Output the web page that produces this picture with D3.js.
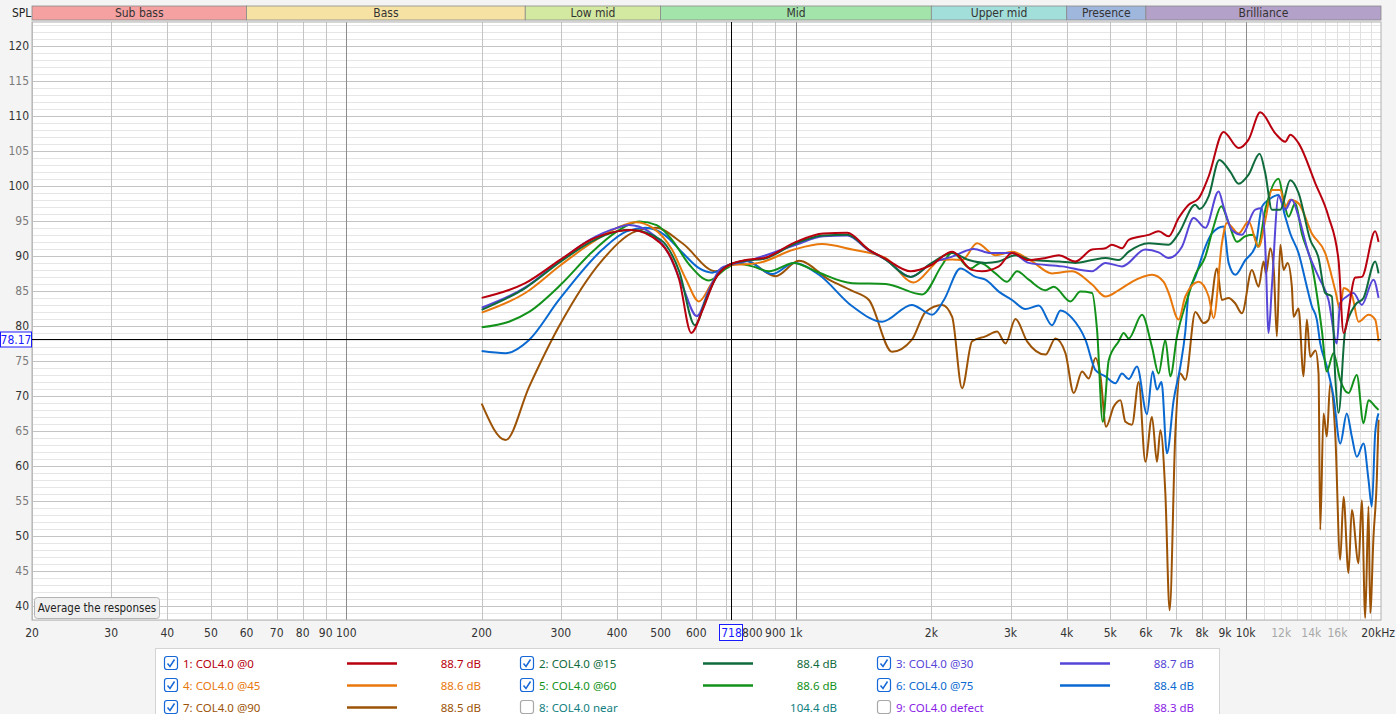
<!DOCTYPE html>
<html>
<head>
<meta charset="utf-8">
<script src="https://cdn.jsdelivr.net/npm/d3@7"></script>
<style>
  body { margin: 0; background: #f4f4f4; overflow: hidden; }
  text { font-family: "DejaVu Sans Condensed", "DejaVu Sans", sans-serif; }
  .legend text { font-family: "Noto Sans", "Open Sans", sans-serif; }
</style>
</head>
<body>
<svg id="chart" width="1396" height="714"></svg>
<script>
// frequency bands along the top
const bandNames = ["Sub bass", "Bass", "Low mid", "Mid", "Upper mid", "Presence", "Brilliance"];
const bandEdges = [20, 60, 250, 500, 2000, 4000, 6000, 20000];
const bandColors = ["#f5a1a1", "#f6e3a3", "#d3e9a1", "#a3e4aa", "#a3dfda", "#9fb6dd", "#b3a1c9"];

// axis ticks
const yTicks = d3.range(40, 121, 5);
const xTicks = [20, 30, 40, 50, 60, 70, 80, 90, 100, 200, 300, 400, 500, 600, 800, 900,
  1000, 2000, 3000, 4000, 5000, 6000, 7000, 8000, 9000, 10000, 12000, 14000, 16000, 20000];

// traces (legend order)
const traceNames = ["1: COL4.0 @0", "2: COL4.0 @15", "3: COL4.0 @30", "4: COL4.0 @45", "5: COL4.0 @60",
  "6: COL4.0 @75", "7: COL4.0 @90", "8: COL4.0 near", "9: COL4.0 defect"];
const traceLevels = [88.7, 88.4, 88.7, 88.6, 88.6, 88.4, 88.5, 104.4, 88.3];
const traceColors = ["#b8000e", "#0f6b3c", "#5646d8", "#e8780c", "#12921a", "#0a69d0", "#9c5306", "#128080", "#8a1ce6"];
const traceChecked = [true, true, true, true, true, true, true, false, false];

// cursor readout
const cursorHz = 718;
const cursorDb = 78.17;

// responses as [Hz, dB]
const resp0 = [[200,84.0],[250,86.1],[300,89.5],[350,92.3],[400,93.5],[430,93.7],[500,91.8],[550,86.6],[585,79.0],[620,82.3],[660,86.6],[710,88.7],
  [773,89.4],[850,89.7],[1000,92.0],[1150,93.2],[1300,93.3],[1450,90.9],[1580,89.6],[1800,87.8],[2000,88.7],[2225,90.6],[2460,88.0],[2590,87.8],
  [2825,88.5],[3024,90.4],[3290,89.4],[3590,89.7],[3840,90.1],[4180,89.2],[4555,90.9],[4880,91.1],[5040,91.6],[5310,91.1],[5495,92.3],[6086,93.0],
  [6406,93.5],[6742,92.8],[7096,95.4],[7470,97.3],[7860,98.2],[8270,101.3],[8930,107.7],[9650,105.4],[10150,106.6],[10780,110.5],[11640,107.5],
  [12250,106.3],[12570,107.3],[13110,106.1],[14280,100.4],[15290,95.6],[16090,89.4],[16510,79.0],[17530,86.9],[18130,87.0],[19410,93.5],[19750,92.0]];

const resp15 = [[200,82.3],[250,85.4],[300,89.2],[350,92.0],[400,93.5],[430,93.7],[500,92.3],[550,87.8],[596,80.1],[630,83.7],[670,87.3],[710,88.7],
  [773,89.3],[850,89.6],[1000,91.8],[1150,92.9],[1300,93.0],[1450,90.9],[1580,89.5],[1800,87.0],[1975,88.7],[2225,90.4],[2423,89.4],[2640,89.0],
  [2825,89.2],[3077,90.1],[3350,89.4],[3840,89.2],[4180,89.0],[4555,89.4],[4880,89.7],[5222,89.4],[5495,90.6],[6086,91.8],[6742,91.6],[7096,93.2],
  [7730,97.3],[7900,96.7],[8274,98.5],[8739,103.7],[9245,102.0],[9646,100.3],[10153,101.6],[10741,104.6],[11059,101.8],[11438,96.6],[11940,96.6],
  [12567,100.8],[13110,99.0],[13920,92.3],[14525,89.7],[15030,84.7],[15550,84.2],[15820,72.8],[16090,67.6],[16650,79.4],[17530,83.0],[18290,84.0],
  [19414,89.2],[19750,87.5]];

const resp30 = [[200,82.6],[250,85.5],[300,89.4],[350,92.4],[400,94.0],[425,94.4],[470,93.5],[520,90.4],[560,85.6],[602,81.4],[640,85.1],[680,88.2],
  [710,88.7],[773,89.2],[1000,91.6],[1150,92.8],[1300,92.9],[1450,90.8],[1580,89.5],[1800,87.0],[2009,89.0],[2225,89.9],[2486,91.0],[2707,90.4],
  [3024,90.4],[3293,89.0],[3906,88.5],[4555,87.8],[4878,89.0],[5309,88.5],[5984,90.9],[6406,90.5],[6742,89.7],[7217,91.3],[7662,95.4],[8135,94.0],
  [8708,99.2],[8933,97.0],[9321,93.7],[9811,93.0],[10507,96.6],[10868,96.8],[11059,91.3],[11247,79.0],[11438,85.6],[11837,98.5],[12249,96.6],
  [12670,98.0],[13112,95.6],[13800,90.4],[14525,87.0],[15287,83.7],[15950,77.5],[16230,83.3],[16788,84.2],[17375,84.7],[18128,83.0],[19246,86.6],[19750,84.0]];

const resp45 = [[200,81.9],[250,84.7],[300,88.7],[350,91.8],[400,94.0],[440,94.8],[480,94.0],[530,90.9],[570,86.6],[608,83.5],[650,86.1],[690,88.2],
  [720,88.7],[773,88.8],[827,89.0],[990,90.9],[1142,91.7],[1334,90.9],[1580,89.7],[1828,86.2],[2009,88.5],[2079,89.4],[2225,89.5],[2341,89.4],
  [2528,91.8],[2778,90.1],[3024,90.6],[3350,89.2],[3711,87.5],[4112,87.8],[4555,85.9],[4878,84.2],[5222,85.1],[5588,86.3],[6190,87.3],[6572,86.3],
  [6742,84.7],[7096,80.9],[7343,84.2],[7861,86.3],[8274,84.2],[8488,81.1],[8856,91.8],[9085,94.7],[9646,93.2],[10153,94.9],[10686,91.3],[11059,95.1],
  [11438,99.4],[11940,99.4],[12249,97.0],[12567,98.0],[13112,97.5],[14035,93.2],[15031,90.4],[15820,85.1],[16230,82.3],[16507,85.4],[17224,84.4],
  [17825,80.6],[18761,81.6],[19414,80.9],[19750,77.8]];

const resp60 = [[200,79.8],[230,80.6],[255,82.0],[300,85.9],[350,90.4],[400,93.5],[448,94.9],[490,94.4],[530,92.3],[580,88.7],[641,86.5],[700,88.2],
  [740,88.9],[800,88.5],[871,87.8],[990,89.0],[1106,87.8],[1334,86.1],[1582,86.0],[1908,84.5],[2114,88.7],[2225,90.5],[2444,88.2],[2572,89.0],
  [2778,87.5],[2948,86.3],[3102,87.8],[3293,86.6],[3588,85.1],[3744,85.6],[4078,83.5],[4292,84.9],[4555,84.7],[4673,79.4],[4811,66.3],[4961,75.1],
  [5222,77.8],[5356,79.0],[5495,78.2],[5882,81.6],[6190,77.0],[6406,73.2],[6629,78.0],[6801,72.8],[7035,78.5],[7404,83.7],[7729,87.3],[8135,89.9],
  [8488,94.2],[8829,97.1],[9165,94.7],[9563,92.0],[9983,92.8],[10416,93.0],[10648,91.3],[11059,96.6],[11837,101.0],[12143,98.0],[12458,95.6],
  [12892,97.5],[13335,93.2],[14035,88.7],[14772,79.4],[15155,73.5],[15683,76.1],[16230,72.3],[16936,70.4],[17670,73.0],[18287,66.1],[18761,69.4],
  [19414,68.5],[19750,68.0]];

const resp75 = [[200,76.4],[226,76.1],[255,78.0],[297,83.7],[371,90.9],[420,93.5],[463,94.0],[510,93.0],[560,90.4],[610,88.2],[651,87.6],[710,88.7],
  [773,89.3],[886,87.4],[990,89.0],[1125,87.3],[1334,82.8],[1555,80.6],[1809,83.0],[2009,81.6],[2133,83.7],[2322,88.2],[2507,87.0],[2639,86.6],
  [2825,84.9],[3024,83.7],[3238,82.4],[3467,82.9],[3711,80.1],[3874,82.2],[4112,81.1],[4404,78.0],[4635,73.7],[4878,72.8],[5134,71.8],[5309,73.2],
  [5495,72.4],[5733,74.2],[6034,67.4],[6212,73.5],[6351,70.9],[6500,72.0],[6683,61.8],[6917,69.4],[7158,74.2],[7343,79.2],[7468,84.7],[7729,87.0],
  [8135,91.3],[8414,93.2],[8933,94.2],[9165,89.0],[9484,87.3],[9983,89.4],[10507,91.3],[10868,97.0],[11247,98.0],[11837,98.7],[12249,95.6],
  [12567,93.2],[13112,90.4],[13681,85.6],[14035,82.8],[14399,80.9],[14652,77.5],[15155,74.2],[15683,69.9],[16230,63.2],[16788,67.5],[17224,64.2],
  [17670,61.3],[18287,63.2],[18761,58.0],[19080,54.2],[19414,64.7],[19750,67.5]];

const resp90 = [[200,68.9],[226,63.7],[255,71.3],[297,79.9],[371,89.4],[440,93.5],[488,94.0],[559,91.8],[663,87.8],[710,88.7],[773,89.3],[901,87.1],
  [1015,89.3],[1184,86.6],[1334,85.0],[1453,83.7],[1636,76.3],[1809,78.0],[1942,82.0],[2114,83.0],[2225,81.3],[2341,71.1],[2464,77.8],[2639,78.5],
  [2801,79.2],[2924,77.5],[3077,81.0],[3265,77.8],[3588,75.9],[3776,78.2],[3975,76.1],[4147,70.4],[4327,73.5],[4479,72.5],[4635,75.4],[4755,72.8],
  [4893,65.6],[5090,68.5],[5267,69.4],[5403,66.3],[5588,65.9],[5783,72.0],[5984,60.6],[6190,67.0],[6351,60.6],[6462,65.1],[6629,56.1],[6776,39.4],
  [6977,64.7],[7158,73.2],[7343,72.3],[7729,82.0],[8065,80.4],[8274,80.9],[8633,88.2],[8856,83.7],[9165,84.0],[9484,83.2],[9811,81.8],[10326,88.0],
  [10686,85.6],[10963,89.2],[11100,87.5],[11345,91.1],[11550,88.0],[11734,78.5],[11940,91.6],[12143,88.0],[12400,89.0],[12670,85.6],[12781,81.3],
  [13112,82.5],[13452,72.8],[13681,80.9],[13921,75.6],[14300,76.5],[14525,73.2],[14652,50.9],[14901,67.5],[15155,64.2],[15421,71.8],[15820,64.7],
  [16230,46.6],[16507,55.6],[16936,44.7],[17224,53.7],[17825,46.1],[18128,55.1],[18447,38.3],[18761,54.2],[18924,39.0],[19246,49.9],[19574,58.0],
  [19750,66.6]];

const responses = [resp0, resp15, resp30, resp45, resp60, resp75, resp90];

const svg = d3.select("#chart");
const plot = { left: 32, right: 1381, top: 22, bottom: 620 };

const x = d3.scaleLog().domain([20, 20000]).range([plot.left, plot.right]);
const y = d3.scaleLinear().domain([38, 123.4]).range([plot.bottom, plot.top]);

// plot background
svg.append("rect")
  .attr("x", plot.left).attr("y", plot.top)
  .attr("width", plot.right - plot.left).attr("height", plot.bottom - plot.top)
  .attr("fill", "#ffffff");

// band strip
const bands = svg.append("g");
bandNames.forEach(function(name, i) {
  const x0 = x(bandEdges[i]), x1 = x(bandEdges[i + 1]);
  bands.append("rect")
    .attr("x", x0).attr("y", 6)
    .attr("width", x1 - x0).attr("height", 14)
    .attr("fill", bandColors[i])
    .attr("stroke", "#8a8a8a").attr("stroke-width", 0.8);
  bands.append("text")
    .attr("x", (x0 + x1) / 2).attr("y", 17)
    .attr("text-anchor", "middle")
    .attr("font-size", 12)
    .attr("fill", "#333")
    .text(name);
});
svg.append("text").attr("x", 12).attr("y", 17).attr("font-size", 12).attr("fill", "#222").text("SPL");

// horizontal grid, 1 dB minor and 5 dB major
const grid = svg.append("g");
d3.range(38, 124).forEach(function(v) {
  grid.append("line")
    .attr("x1", plot.left).attr("x2", plot.right)
    .attr("y1", Math.round(y(v)) + 0.5).attr("y2", Math.round(y(v)) + 0.5)
    .attr("stroke", v % 5 === 0 ? "#c4c4c4" : "#e6e6e6");
});

// vertical grid
const vLines = [];
[10, 100, 1000].forEach(function(dec) {
  for (let k = 2; k <= 10; k++) vLines.push(dec * k);
});
for (let k = 11; k <= 19; k++) vLines.push(k * 1000);
vLines.forEach(function(f) {
  if (f < 20 || f > 20000) return;
  let col = "#c4c4c4";
  if (f === 100 || f === 1000 || f === 10000) col = "#8c8c8c";
  if (f > 10000 && f < 20000) col = "#e0e0e0";
  grid.append("line")
    .attr("x1", Math.round(x(f)) + 0.5).attr("x2", Math.round(x(f)) + 0.5)
    .attr("y1", plot.top).attr("y2", plot.bottom)
    .attr("stroke", col);
});

// plot frame
svg.append("rect")
  .attr("x", plot.left).attr("y", plot.top)
  .attr("width", plot.right - plot.left).attr("height", plot.bottom - plot.top)
  .attr("fill", "none").attr("stroke", "#b0b0b0");

// y labels
svg.append("g").selectAll("text")
  .data(yTicks)
  .enter().append("text")
  .attr("x", 29).attr("y", function(d) { return y(d) + 4.5; })
  .attr("text-anchor", "end")
  .attr("font-size", 12)
  .attr("fill", function(d) { return d % 10 === 0 ? "#333" : "#7a7a7a"; })
  .text(function(d) { return d; });

// x labels
svg.append("g").selectAll("text")
  .data(xTicks)
  .enter().append("text")
  .attr("x", function(d) { return d === 20000 ? 1395 : x(d); })
  .attr("y", 637)
  .attr("text-anchor", function(d) { return d === 20000 ? "end" : "middle"; })
  .attr("font-size", 12)
  .attr("fill", function(d) { return (d > 10000 && d < 20000) ? "#a8a8a8" : "#333"; })
  .text(function(d) {
    if (d === 20000) return "20kHz";
    return d >= 1000 ? (d / 1000) + "k" : d;
  });

// traces
svg.append("clipPath").attr("id", "clip")
  .append("rect")
  .attr("x", plot.left).attr("y", plot.top)
  .attr("width", plot.right - plot.left).attr("height", plot.bottom - plot.top);

const line = d3.line()
  .x(function(d) { return x(d[0]); })
  .y(function(d) { return y(d[1]); })
  .curve(d3.curveMonotoneX);

const traces = svg.append("g").attr("clip-path", "url(#clip)");
for (let i = responses.length - 1; i >= 0; i--) {
  traces.append("path")
    .datum(responses[i])
    .attr("d", line)
    .attr("fill", "none")
    .attr("stroke", traceColors[i])
    .attr("stroke-width", 2)
    .attr("stroke-linejoin", "round");
}

// cursor
const cx = Math.round(x(cursorHz)) + 0.5;
const cy = Math.round(y(cursorDb)) + 0.5;
svg.append("line").attr("x1", cx).attr("x2", cx).attr("y1", plot.top).attr("y2", plot.bottom).attr("stroke", "#000");
svg.append("line").attr("x1", plot.left).attr("x2", plot.right).attr("y1", cy).attr("y2", cy).attr("stroke", "#000");

svg.append("rect").attr("x", 0.5).attr("y", cy - 7.5).attr("width", 31).attr("height", 15)
  .attr("fill", "#fff").attr("stroke", "#1a1aff");
svg.append("text").attr("x", 16).attr("y", cy + 4.5).attr("text-anchor", "middle")
  .attr("font-size", 12).attr("fill", "#1a1aff").text(cursorDb.toFixed(2));

svg.append("rect").attr("x", cx - 12).attr("y", 624.5).attr("width", 23).attr("height", 16)
  .attr("fill", "#fff").attr("stroke", "#1a1aff");
svg.append("text").attr("x", cx).attr("y", 637).attr("text-anchor", "middle")
  .attr("font-size", 12).attr("fill", "#1a1aff").text(cursorHz);

// average button
const btn = svg.append("g");
btn.append("rect").attr("x", 34.5).attr("y", 597.5).attr("width", 125).attr("height", 21).attr("rx", 3)
  .attr("fill", "#f0f0f0").attr("stroke", "#b4b4b4");
btn.append("text").attr("x", 97).attr("y", 612).attr("text-anchor", "middle")
  .attr("font-size", 11.5).attr("fill", "#222").text("Average the responses");

// legend
const legend = svg.append("g").attr("class", "legend");
legend.append("rect").attr("x", 155.5).attr("y", 648.5).attr("width", 1064).attr("height", 80)
  .attr("fill", "#fff").attr("stroke", "#d4d4d4");

const colX = [164, 520, 877];
const rowY = [663, 685, 707];
traceNames.forEach(function(name, i) {
  const bx = colX[i % 3], by = rowY[Math.floor(i / 3)];
  const g = legend.append("g");
  g.append("rect").attr("x", bx + 0.5).attr("y", by - 6.5).attr("width", 13).attr("height", 13).attr("rx", 2.5)
    .attr("fill", "#fff").attr("stroke", traceChecked[i] ? "#1668d8" : "#a8a8a8").attr("stroke-width", 1.2);
  if (traceChecked[i]) {
    g.append("path")
      .attr("d", "M" + (bx + 3.5) + "," + (by + 0.5) + " L" + (bx + 6) + "," + (by + 3.5) + " L" + (bx + 10.5) + "," + (by - 3.5))
      .attr("fill", "none").attr("stroke", "#1668d8").attr("stroke-width", 1.5);
  }
  g.append("text").attr("x", bx + 19).attr("y", by + 4.5)
    .attr("font-size", 11.5).attr("fill", traceColors[i]).text(name);
  if (traceChecked[i]) {
    g.append("line").attr("x1", bx + 183).attr("x2", bx + 233).attr("y1", by + 0.5).attr("y2", by + 0.5)
      .attr("stroke", traceColors[i]).attr("stroke-width", 2.5);
  }
  g.append("text").attr("x", bx + 317).attr("y", by + 4.5).attr("text-anchor", "end")
    .attr("font-size", 11.5).attr("fill", traceColors[i]).text(traceLevels[i].toFixed(1) + " dB");
});
</script>
</body>
</html>
